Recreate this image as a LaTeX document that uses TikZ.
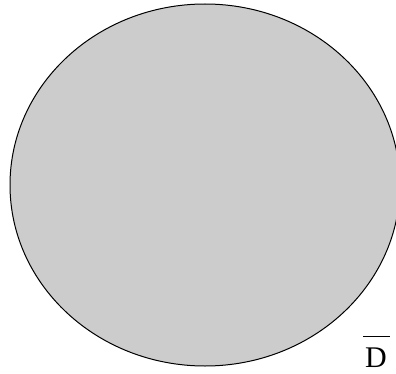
\documentclass[tikz,border=0pt]{standalone}
\usepackage{fontspec}
\setmainfont{Liberation Serif}
\definecolor{regiongray}{RGB}{204,204,204}
\begin{document}
\begin{tikzpicture}[x=1pt,y=1pt,
  region/.style={draw=black,fill=regiongray,line width=1pt},
  labeltext/.style={inner sep=0pt,font=\fontsize{30}{30}\selectfont}]
\useasboundingbox (0,0) rectangle (396,373);
\begin{scope}
\clip (0,0) rectangle (396,373);
\path[region] (205,188) ellipse [x radius=195, y radius=181];
\end{scope}
\node[labeltext,anchor=base] (lbl) at (376,6) {D};
\draw[line width=1pt] (363,37) -- (390,37);
\end{tikzpicture}
\end{document}
